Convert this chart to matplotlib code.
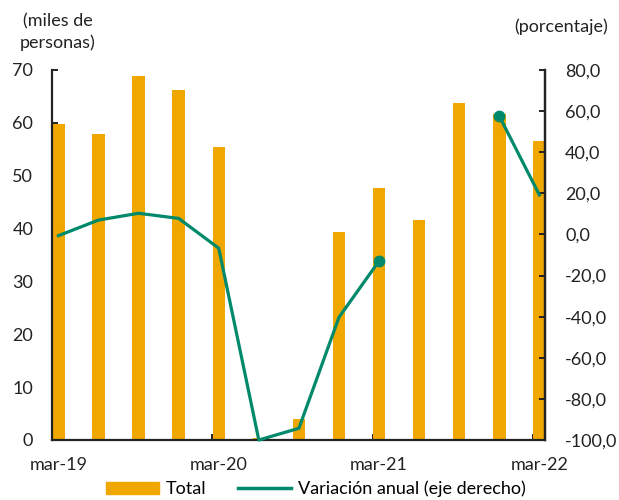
import numpy as np
import matplotlib
matplotlib.use('Agg')
import matplotlib.pyplot as plt
from matplotlib.lines import Line2D
from matplotlib.patches import Patch

# trimestres
trimestres = ['mar-19', 'jun-19', 'sep-19', 'dic-19', 'mar-20', 'jun-20', 'sep-20',
              'dic-20', 'mar-21', 'jun-21', 'sep-21', 'dic-21', 'mar-22']
total = [59.8, 57.8, 68.9, 66.3, 55.4, 0.3, 4.0, 39.3, 47.6, 41.7, 63.8, 61.7, 56.6]
variacion = [-0.6, 7.0, 10.3, 7.8, -6.7, -100.0, -94.3, -40.3, -12.9,
             np.nan, np.nan, 57.6, 19.2]
xlabels = ['mar-19', 'mar-20', 'mar-21', 'mar-22']

plt.rcParams['font.family'] = ['Lato', 'DejaVu Sans']
naranja = '#F0A800'
verde = '#00896B'
fs = 13

fig = plt.figure(figsize=(6.19, 5.0), dpi=100)
ax1 = fig.add_axes([52/619, 60/500, 493/619, 370/500])
x = np.arange(len(trimestres))
off = 0.16
ax1.bar(x + off, total, width=0.31, color=naranja, zorder=2)
ax1.set_ylim(0, 70)
ax1.set_yticks(range(0, 71, 10))
ax1.set_xlim(0, 12.3)
# etiquetas en el centro de la barra, marcas cada 4 trimestres
ax1.set_xticks([0 + off, 4 + off, 8 + off, 12 + off])
ax1.set_xticklabels(xlabels)
ax1.set_xticks([0, 4, 8, 12], minor=True)

ax2 = ax1.twinx()
ax2.plot(x + off, variacion, color=verde, lw=2.3, zorder=3, clip_on=False)
ax2.plot([x[8] + off, x[11] + off], [variacion[8], variacion[11]], 'o',
         color=verde, ms=7.5, zorder=4)
ax2.set_ylim(-100, 80)
ax2.set_yticks(range(-100, 81, 20))
ax2.set_yticklabels(['{:.1f}'.format(v).replace('.', ',') for v in range(-100, 81, 20)])

for ax in (ax1, ax2):
    ax.spines['top'].set_visible(False)
    for s in ax.spines.values():
        s.set_linewidth(1.6)
        s.set_color('#222222')
    ax.tick_params(direction='in', length=4, width=1.4, color='#222222',
                   labelsize=fs, labelcolor='#222222')
ax1.tick_params(axis='y', pad=13.5)
ax1.tick_params(axis='x', which='major', length=0, pad=12)
ax1.tick_params(axis='x', which='minor', direction='in', length=4, width=1.4,
                color='#222222')
ax2.tick_params(axis='y', pad=14.5)
ax2.spines['left'].set_visible(False)
ax2.spines['bottom'].set_visible(False)

fig.text(58/619, 1 - 32/500, '(miles de\npersonas)', ha='center', va='center',
         fontsize=fs, color='#222222', linespacing=1.35)
fig.text(561/619, 1 - 27/500, '(porcentaje)', ha='center', va='center',
         fontsize=fs, color='#222222')

handles = [Patch(color=naranja), Line2D([0], [0], color=verde, lw=2.5)]
fig.legend(handles, ['Total', 'Variación anual (eje derecho)'], loc='center',
           bbox_to_anchor=(316/619, 1 - 489/500), ncol=2, frameon=False,
           fontsize=fs, handlelength=2.9, columnspacing=1.75, handletextpad=0.4,
           handleheight=0.6)

fig.savefig('out.png', dpi=100)
